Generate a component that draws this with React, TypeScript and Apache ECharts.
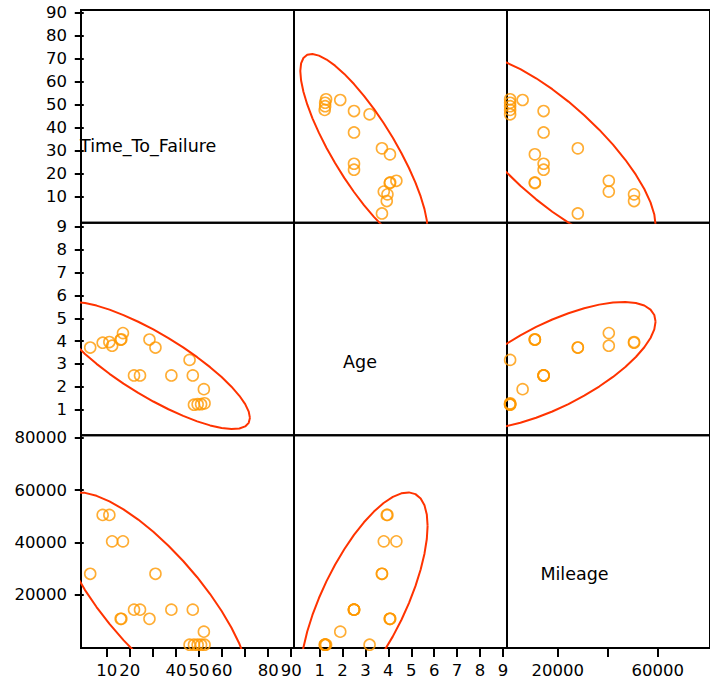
import React, { useEffect, useRef } from "react";
import * as echarts from "echarts";

// ---- data ----
const varNames = ["Time_To_Failure", "Age", "Mileage"];
const timeToFailure = [2.8, 8.2, 11.1, 12.3, 16.0, 16.3, 17.0, 21.8, 24.4, 28.5, 31.1, 38.0, 45.9, 47.3, 47.8, 49.4, 50.9, 52.1, 52.4];
const age = [3.72, 3.93, 3.96, 3.8, 4.06, 4.08, 4.35, 2.5, 2.5, 4.07, 3.72, 2.5, 3.18, 2.5, 1.22, 1.24, 1.24, 1.9, 1.28];
const mileage = [28000, 50500, 50500, 40400, 10800, 10800, 40400, 14300, 14300, 10800, 28000, 14300, 900, 14300, 900, 900, 900, 5900, 900];

const ttfTicks = [10, 20, 30, 40, 50, 60, 70, 80, 90];
const ttfXLabels = [10, 20, 40, 50, 60, 80, 90];
const ageTicks = [1, 2, 3, 4, 5, 6, 7, 8, 9];
const mileageYTicks = [20000, 40000, 60000, 80000];
const mileageXTicks = [20000, 40000, 60000];
const mileageXLabels = [20000, 60000];

const ranges: [number, number][] = [
  [-1.2, 91.2],
  [-0.12, 9.18],
  [-350, 80900],
];

const columns = [timeToFailure, age, mileage];
const xTickSets = [ttfTicks, ageTicks, mileageXTicks];
const xLabelSets = [ttfXLabels, ageTicks, mileageXLabels];
const yTickSets = [ttfTicks, ageTicks, mileageYTicks];

// layout
const LEFT = 81;
const TOP = 10;
const CW = 213;
const CH = 212.67;
const FONT = "DejaVu Sans";

function densityEllipse(xs: number[], ys: number[], segs = 40): number[][] {
  const n = xs.length;
  const mx = xs.reduce((a, b) => a + b, 0) / n;
  const my = ys.reduce((a, b) => a + b, 0) / n;
  let sxx = 0, syy = 0, sxy = 0;
  for (let i = 0; i < n; i++) {
    const dx = xs[i] - mx, dy = ys[i] - my;
    sxx += dx * dx; syy += dy * dy; sxy += dx * dy;
  }
  sxx /= n - 1; syy /= n - 1; sxy /= n - 1;
  const c = Math.sqrt(5.991);
  const l11 = Math.sqrt(sxx);
  const l21 = sxy / l11;
  const l22 = Math.sqrt(Math.max(syy - l21 * l21, 0));
  const pts: number[][] = [];
  for (let i = 0; i <= segs; i++) {
    const t = (2 * Math.PI * i) / segs;
    const u = Math.cos(t) * c, v = Math.sin(t) * c;
    pts.push([mx + l11 * u, my + l21 * u + l22 * v]);
  }
  return pts;
}

export default function App() {
  const ref = useRef<HTMLDivElement>(null);
  useEffect(() => {
    if (!ref.current) return;
    const chart = echarts.init(ref.current, null, { renderer: "svg" });
    const grids: any[] = [];
    const xAxes: any[] = [];
    const yAxes: any[] = [];
    const series: any[] = [];
    const fmt = (v: number) => String(v);
    for (let r = 0; r < 3; r++) {
      for (let c = 0; c < 3; c++) {
        const gi = r * 3 + c;
        grids.push({
          left: LEFT + c * CW,
          top: TOP + r * CH,
          width: CW,
          height: CH,
          show: true,
          borderColor: "#000",
          borderWidth: 2,
          backgroundColor: "transparent",
        });
        xAxes.push({
          gridIndex: gi,
          type: "value",
          min: ranges[c][0],
          max: ranges[c][1],
          axisLine: { show: false },
          splitLine: { show: false },
          axisTick: {
            show: r === 2,
            length: 10,
            lineStyle: { color: "#000", width: 2 },
            customValues: xTickSets[c],
          },
          axisLabel: {
            show: r === 2,
            customValues: xLabelSets[c],
            margin: 14,
            fontSize: 16.5,
            color: "#000",
            fontFamily: FONT,
            formatter: fmt,
          },
        });
        yAxes.push({
          gridIndex: gi,
          type: "value",
          min: ranges[r][0],
          max: ranges[r][1],
          axisLine: { show: false },
          splitLine: { show: false },
          axisTick: {
            show: c === 0,
            length: 9,
            lineStyle: { color: "#000", width: 2 },
            customValues: yTickSets[r],
          },
          axisLabel: {
            show: c === 0,
            customValues: yTickSets[r],
            margin: 14,
            fontSize: 16.5,
            color: "#000",
            fontFamily: FONT,
            formatter: fmt,
          },
        });
        if (r !== c) {
          const xs = columns[c];
          const ys = columns[r];
          series.push({
            type: "line",
            xAxisIndex: gi,
            yAxisIndex: gi,
            data: densityEllipse(xs, ys),
            showSymbol: false,
            symbol: "none",
            clip: true,
            lineStyle: { color: "#FF3300", width: 2 },
            silent: true,
          });
          series.push({
            type: "scatter",
            xAxisIndex: gi,
            yAxisIndex: gi,
            data: xs.map((x, i) => [x, ys[i]]),
            symbol: "circle",
            symbolSize: 11,
            clip: true,
            itemStyle: { color: "rgba(0,0,0,0)", borderColor: "#FF9900", borderWidth: 1.6 },
          });
        }
      }
    }
    const graphic = [
      { type: "text", x: 80, y: 145.7, style: { text: varNames[0], fontSize: 17.5, fontFamily: FONT, fill: "#000", align: "left", verticalAlign: "middle" } },
      { type: "text", x: 360, y: 362, style: { text: varNames[1], fontSize: 17.5, fontFamily: FONT, fill: "#000", align: "center", verticalAlign: "middle" } },
      { type: "text", x: 574.5, y: 574, style: { text: varNames[2], fontSize: 17.5, fontFamily: FONT, fill: "#000", align: "center", verticalAlign: "middle" } },
    ];
    chart.setOption({
      animation: false,
      backgroundColor: "#fff",
      grid: grids,
      xAxis: xAxes,
      yAxis: yAxes,
      series,
      graphic,
    });
    return () => chart.dispose();
  }, []);
  return <div ref={ref} style={{ position: "absolute", left: 0, top: 0, width: 710, height: 679 }} />;
}
